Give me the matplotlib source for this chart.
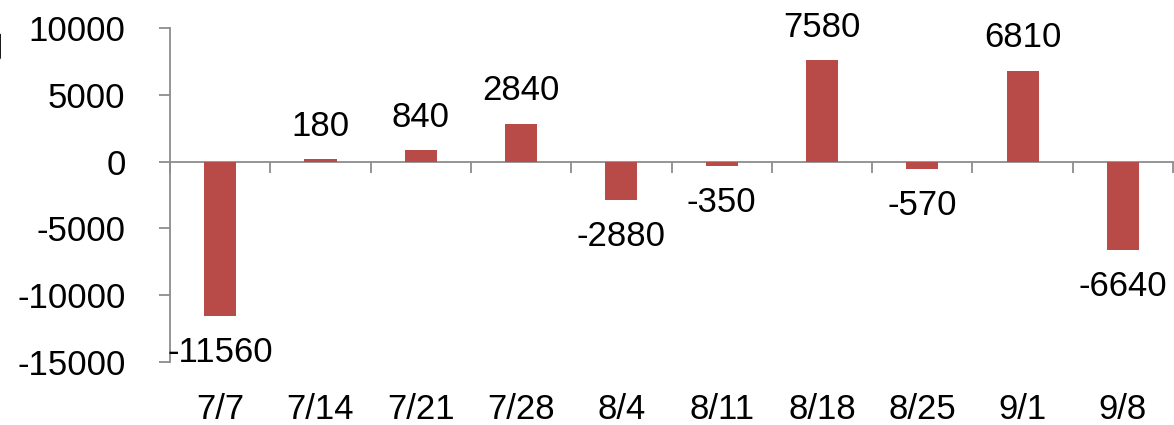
import matplotlib.pyplot as plt
from matplotlib.ticker import FixedLocator
import matplotlib.transforms as mtransforms

plt.rcParams['font.family'] = ['Liberation Sans', 'Noto Sans CJK SC', 'DejaVu Sans']
plt.rcParams['axes.unicode_minus'] = False

dates = ['7/7', '7/14', '7/21', '7/28', '8/4', '8/11', '8/18', '8/25', '9/1', '9/8']
changes = [-11560, 180, 840, 2840, -2880, -350, 7580, -570, 6810, -6640]

bar_color = '#B84A47'
axis_color = '#8C8C8C'

fig = plt.figure(figsize=(11.74, 4.25), dpi=100)
ax = fig.add_axes([0.1448, 0.148, 0.8544, 0.786])

x = range(len(dates))
ax.bar(x, changes, width=0.32, color=bar_color, zorder=3)

ax.set_xlim(-0.5, len(dates) - 0.5)
ax.set_ylim(-15000, 10000)
ax.set_yticks(range(-15000, 10001, 5000))

# value labels above / below each bar
for xi, v in zip(x, changes):
    off = 12 if v >= 0 else -14
    ax.annotate(str(v), (xi, v), xytext=(0, off), textcoords='offset points',
                ha='center', va='bottom' if v >= 0 else 'top', fontsize=25)

# spines: left axis gray, bottom axis drawn at zero
for s in ['top', 'right']:
    ax.spines[s].set_visible(False)
ax.spines['left'].set_color(axis_color)
ax.spines['left'].set_linewidth(1.3)
ax.spines['bottom'].set_position(('data', 0))
ax.spines['bottom'].set_color(axis_color)
ax.spines['bottom'].set_linewidth(1.3)

# category boundaries as tick marks, labels at the bottom
ax.xaxis.set_major_locator(FixedLocator([i - 0.5 for i in range(len(dates) + 1)]))
ax.set_xticklabels([])
ax.tick_params(axis='x', direction='out', length=8, width=1.3, color=axis_color)
ax.tick_params(axis='y', direction='out', length=8, width=1.3, color=axis_color,
               labelsize=25, pad=24)

trans = mtransforms.blended_transform_factory(ax.transData, ax.transAxes)
for xi, d in zip(x, dates):
    ax.text(xi, -0.143, d, transform=trans, ha='center', va='center', fontsize=25)

fig.text(-0.022, 0.885, '周', fontsize=22, ha='left', va='center',
         family=['Noto Sans CJK SC', 'DejaVu Sans'])

fig.savefig('out.png', dpi=100)
